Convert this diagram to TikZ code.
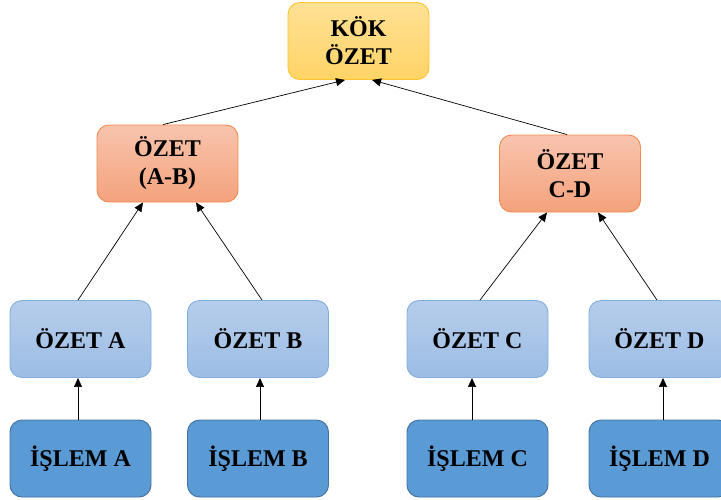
\documentclass[tikz,border=0pt]{standalone}
\usepackage{fontspec}
\setmainfont{Liberation Serif}
\usetikzlibrary{arrows.meta,calc}
\definecolor{kokTop}{HTML}{FFE196}
\definecolor{kokBot}{HTML}{FFD466}
\definecolor{kokLine}{HTML}{FFC42E}
\definecolor{salTop}{HTML}{F8C4AE}
\definecolor{salBot}{HTML}{F4A27C}
\definecolor{salLine}{HTML}{F08A50}
\definecolor{lbTop}{HTML}{B6CDEB}
\definecolor{lbBot}{HTML}{9CBDE5}
\definecolor{lbLine}{HTML}{7FADDC}
\definecolor{dbFill}{HTML}{5B9BD5}
\definecolor{dbLine}{HTML}{41719C}
\tikzset{
  box/.style={rectangle, rounded corners=12pt, minimum width=141pt, minimum height=77pt,
    line width=0.9pt, align=center, inner sep=0pt,
    font=\fontsize{24}{28}\selectfont\bfseries},
  kokbox/.style={box, draw=kokLine, top color=kokTop, bottom color=kokBot},
  salbox/.style={box, draw=salLine, top color=salTop, bottom color=salBot},
  lbbox/.style={box, draw=lbLine, top color=lbTop, bottom color=lbBot},
  dbbox/.style={box, draw=dbLine, fill=dbFill},
  conn/.style={draw=black, line width=0.7pt, -{Triangle[length=9pt,width=8pt]}}
}
\begin{document}
\begin{tikzpicture}[x=1pt,y=-1pt]
\useasboundingbox (0,0) rectangle (721,499);
\node[kokbox] (kok) at (358.5,41) {KÖK\\ÖZET};
\node[salbox] (ab) at (167.5,163.5) {ÖZET\\(A-B)};
\node[salbox] (cd) at (570,173.5) {ÖZET\\C-D};
\node[lbbox] (oa) at (80.5,339) {ÖZET A};
\node[lbbox] (ob) at (258,339) {ÖZET B};
\node[lbbox] (oc) at (477.5,339) {ÖZET C};
\node[lbbox] (od) at (659.5,339) {ÖZET D};
\node[dbbox] (ia) at (80.5,458.5) {İŞLEM A};
\node[dbbox] (ib) at (258,458.5) {İŞLEM B};
\node[dbbox] (ic) at (477.5,458.5) {İŞLEM C};
\node[dbbox] (id) at (659.5,458.5) {İŞLEM D};
% leaf to summary
\draw[conn] ([xshift=-2.5pt]ia.north) -- ([xshift=-2.5pt]oa.south);
\draw[conn] ([xshift=2pt]ib.north) -- ([xshift=2pt]ob.south);
\draw[conn] ([xshift=-5.5pt]ic.north) -- ([xshift=-5.5pt]oc.south);
\draw[conn] ([xshift=3.5pt]id.north) -- ([xshift=3.5pt]od.south);
% summary to pair
\draw[conn] ([xshift=-2.5pt]oa.north) -- ([xshift=-24.5pt]ab.south);
\draw[conn] ([xshift=4pt]ob.north) -- ([xshift=28.5pt]ab.south);
\draw[conn] ([xshift=2.5pt]oc.north) -- ([xshift=-23pt]cd.south);
\draw[conn] ([xshift=-2.5pt]od.north) -- ([xshift=28pt]cd.south);
% pair to root
\draw[conn] ([xshift=-4.5pt]ab.north) -- ([xshift=-13.5pt]kok.south);
\draw[conn] ([xshift=-3pt]cd.north) -- ([xshift=13.5pt]kok.south);
\end{tikzpicture}
\end{document}
